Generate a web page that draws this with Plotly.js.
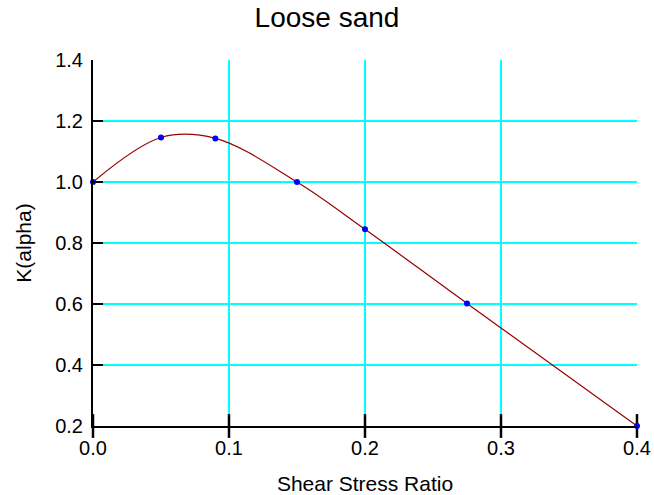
<!DOCTYPE html>
<html><head><meta charset="utf-8">
<script src="https://cdn.plot.ly/plotly-3.0.1.min.js"></script>
<style>html,body{margin:0;padding:0;background:#fff}</style>
</head><body>
<div id="chart" style="width:654px;height:495px"></div>
<script>
const shearStressRatio = [0.0, 0.05, 0.09, 0.15, 0.2, 0.275, 0.4];
const kAlpha = [1.0, 1.146, 1.143, 1.0, 0.845, 0.602, 0.2];
const xTicks = [0.0, 0.1, 0.2, 0.3, 0.4];
const xTickText = ['0.0', '0.1', '0.2', '0.3', '0.4'];
const yTicks = [0.2, 0.4, 0.6, 0.8, 1.0, 1.2, 1.4];
const yTickText = ['0.2', '0.4', '0.6', '0.8', '1.0', '1.2', '1.4'];

const font = {family: 'Arial, Liberation Sans, sans-serif', color: '#000'};
const traces = [
  {x: shearStressRatio, y: kAlpha, mode: 'lines', line: {shape: 'spline', smoothing: 1, color: '#990000', width: 1.2}, hoverinfo: 'skip', cliponaxis: false},
  // tick marks crossing the x axis line
  {x: xTicks, y: xTicks.map(() => yTicks[0]), mode: 'markers', hoverinfo: 'skip', cliponaxis: false,
   marker: {symbol: 'line-ns-open', size: 17, color: '#000', line: {color: '#000', width: 2.5}}},
  {x: shearStressRatio, y: kAlpha, mode: 'markers', marker: {color: '#0000ff', size: 6}, cliponaxis: false}
];
const layout = {
  width: 654, height: 495,
  margin: {l: 93, r: 17, t: 60, b: 69},
  paper_bgcolor: '#fff', plot_bgcolor: '#fff',
  showlegend: false,
  title: {text: 'Loose sand', font: Object.assign({size: 28}, font), x: 0.5, xanchor: 'center', y: 0.965, yanchor: 'middle'},
  xaxis: {
    range: [0, 0.4], tickvals: xTicks, ticktext: xTickText,
    showgrid: true, gridcolor: '#00ffff', gridwidth: 2, zeroline: false,
    showline: true, linecolor: '#000', linewidth: 2,
    ticks: '', ticklabelstandoff: 3,
    tickfont: Object.assign({size: 20}, font),
    title: {text: 'Shear Stress Ratio', font: Object.assign({size: 21}, font), standoff: 22}
  },
  yaxis: {
    range: [0.2, 1.4], tickvals: yTicks, ticktext: yTickText,
    showgrid: true, gridcolor: '#00ffff', gridwidth: 2, zeroline: false,
    showline: true, linecolor: '#000', linewidth: 2,
    ticks: 'inside', ticklen: 10, tickwidth: 2.5, tickcolor: '#000',
    ticklabelstandoff: 4,
    tickfont: Object.assign({size: 20}, font),
    title: {text: 'K(alpha)', font: Object.assign({size: 21}, font), standoff: 18}
  }
};
Plotly.newPlot('chart', traces, layout, {displayModeBar: false, staticPlot: true});
</script>
</body></html>
